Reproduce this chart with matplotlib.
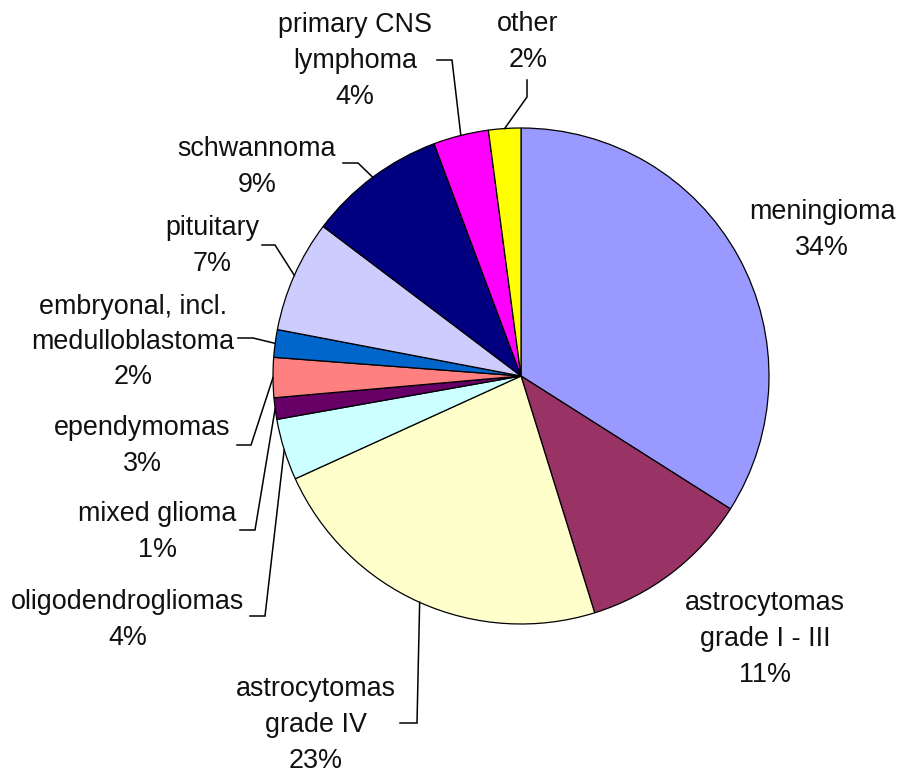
import numpy as np
import matplotlib
matplotlib.use("Agg")
import matplotlib.pyplot as plt

# --- chart data (share of primary brain tumours, %) ---
names = ["meningioma", "astrocytomas\ngrade I - III", "astrocytomas\ngrade IV",
         "oligodendrogliomas", "mixed glioma", "ependymomas",
         "embryonal, incl.\nmedulloblastoma", "pituitary", "schwannoma",
         "primary CNS\nlymphoma", "other"]
shares = [34.0, 11.2, 23.0, 4.0, 1.4, 2.6, 1.8, 7.3, 9.0, 3.6, 2.1]
colors = ["#9999FF", "#993366", "#FFFFCC", "#CCFFFF", "#660066", "#FF8080",
          "#0066CC", "#CCCCFF", "#000080", "#FF00FF", "#FFFF00"]

# --- layout (pixel positions, y measured from the top) ---
W, H = 901, 771
pie_cx, pie_cy, pie_r = 521, 376, 248
# label block centres
label_pos = [(822, 230), (765, 639), (316, 725), (128, 620), (157, 532),
             (142, 446), (133, 342), (212, 246), (257, 167), (355, 61), (528, 42)]
# leader lines: (tail x, tail y, elbow x, elbow y) or None
leaders = [None, None, (400, 723, 417, 723), (250, 616, 265, 616),
           (240, 530, 255, 530), (237, 445, 251, 445), (238, 338, 253, 338),
           (262, 245, 275, 245), (343, 163, 358, 163), (437, 60, 452, 60),
           (527, 80, 527, 97)]
line_step = 35.5


def px(x, y):
    return x, H - y


fig = plt.figure(figsize=(W / 100, H / 100), dpi=100)
ax = fig.add_axes([0, 0, 1, 1])

wedges, _ = ax.pie(shares, colors=colors, startangle=90, counterclock=False,
                   radius=pie_r, center=px(pie_cx, pie_cy),
                   wedgeprops=dict(edgecolor="black", linewidth=0.9))

ax.set_xlim(0, W)
ax.set_ylim(0, H)
ax.set_aspect("equal")
ax.axis("off")

font = dict(family="Liberation Sans", size=19.4, color="#111111")

for i, (name, val) in enumerate(zip(names, shares)):
    lines = name.split("\n") + [f"{val:.0f}%"]
    cx, cy = label_pos[i]
    n = len(lines)
    for k, line in enumerate(lines):
        ax.text(*px(cx, cy + (k - (n - 1) / 2) * line_step), line,
                ha="center", va="center", **font)

    if leaders[i] is not None:
        w = wedges[i]
        mid = np.deg2rad((w.theta1 + w.theta2) / 2)
        ax_, ay_ = w.center[0] + pie_r * np.cos(mid), w.center[1] + pie_r * np.sin(mid)
        tx, ty, ex, ey = leaders[i]
        xs = [tx, ex]
        ys = [H - ty, H - ey]
        ax.plot(xs + [ax_], ys + [ay_], color="black", lw=1.1,
                solid_joinstyle="miter")

fig.savefig("out.png", dpi=100, facecolor="white")
